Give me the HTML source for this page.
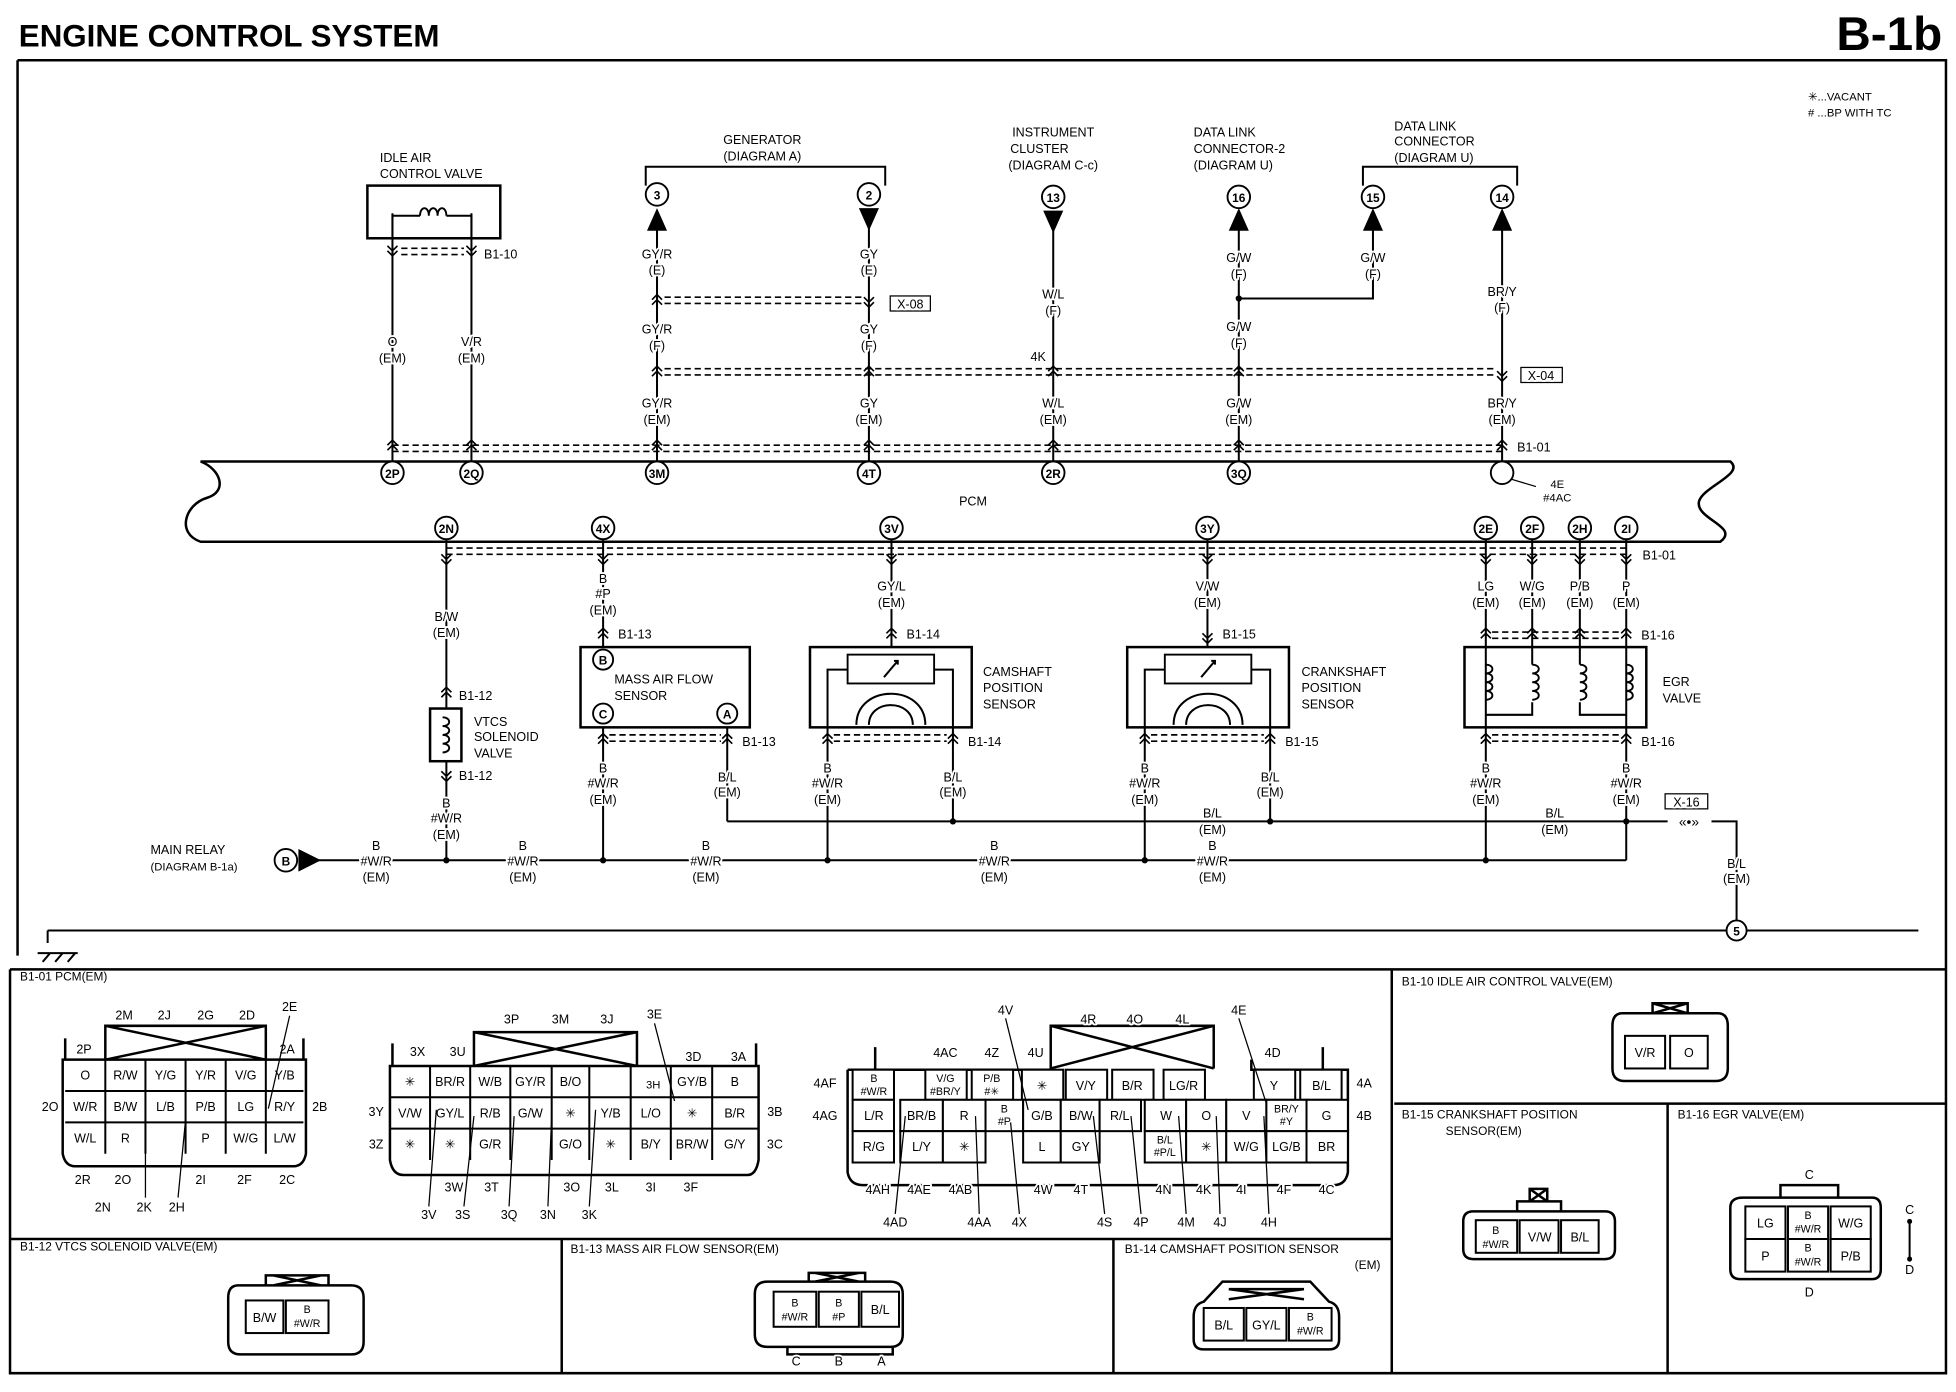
<!DOCTYPE html>
<html><head><meta charset="utf-8"><style>
html,body{margin:0;padding:0;background:#fff}
svg{display:block}
text{font-family:"Liberation Sans",sans-serif;fill:#000}
.t{font-size:10px;text-anchor:middle;paint-order:stroke;stroke:#fff;stroke-width:3px;stroke-linejoin:round}
.l{font-size:10px}
.c{font-size:9.5px;text-anchor:middle;font-weight:bold}
.s{font-size:8.5px;text-anchor:middle}
.w{stroke:#000;stroke-width:1.6;fill:none}
.d{stroke:#000;stroke-width:1.3;stroke-dasharray:5 3;fill:none}
.b{stroke:#000;stroke-width:2;fill:none}
.cell{stroke:#000;stroke-width:1.6;fill:#fff}
</style></head><body>
<svg width="1956" height="1392" viewBox="0 0 1560 1110" preserveAspectRatio="none" xmlns="http://www.w3.org/2000/svg">
<defs>
<path id="cu" d="M-4,3 L0,-1 L4,3 M-4,7 L0,3 L4,7" fill="none" stroke="#000" stroke-width="1.3"/>
<path id="cd" d="M-4,-3 L0,1 L4,-3 M-4,-7 L0,-3 L4,-7" fill="none" stroke="#000" stroke-width="1.3"/>
<path id="coil" d="M0,0 c7,0 7,7 0,7 c7,0 7,7 0,7 c7,0 7,7 0,7 c7,0 7,7 0,7" fill="none" stroke="#000" stroke-width="1.5"/>
</defs>
<rect width="1560" height="1110" fill="#fff"/>
<text x="15" y="37" style="font-size:25px;font-weight:bold">ENGINE CONTROL SYSTEM</text>
<text x="1549" y="40" style="font-size:38px;font-weight:bold;text-anchor:end">B-1b</text>
<path class="b" d="M14,48 H1552 V1095 H8 V773 M14,48 V762"/>
<path class="b" d="M8,773 H1552 M8,988 H1110 M1110,773 V1095 M1112,880 H1552 M1330,880 V1095 M448,988 V1095 M888,988 V1095"/>
<text x="1442" y="80" class="l" style="font-size:9px">✳...VACANT</text>
<text x="1442" y="93" class="l" style="font-size:9px"># ...BP WITH TC</text>
<path class="w" d="M38,742 H1377 M1393,742 H1530 M38,742 V752 M30,760 H62 M34,767 l6,-7 M44,767 l6,-7 M54,767 l6,-7"/>
<circle cx="1385" cy="742" r="8" fill="#fff" stroke="#000" stroke-width="1.5"/><text x="1385" y="746" class="c">5</text>
<path class="b" d="M160,368 L1380,368 C1392,378 1358,388 1355,400 C1352,414 1388,420 1372,432 L160,432 C140,425 148,402 165,397 C182,392 176,374 160,368 Z"/>
<text x="776" y="403" class="t">PCM</text>
<path class="d" d="M313,355 H1200 M313,360 H1200"/>
<text x="1210" y="360" class="l">B1-01</text>
<path class="d" d="M356,437 H1300 M356,442 H1300"/>
<text x="1310" y="446" class="l">B1-01</text>
<path class="w" d="M313,170 V369 M376,170 V369 M524,183 V369 M693,170 V369 M840,170 V369 M988,183 V369 M1198,183 V369 M1095,183 V238 H988 M515,148 V133 H706 V148 M1087,148 V133 H1210 V148"/>
<circle cx="988" cy="238" r="2.5"/>
<rect x="293" y="148" width="106" height="42" fill="none" stroke="#000" stroke-width="2"/>
<path class="w" d="M313,190 V172 H335 M356,172 H376 V190"/>
<path d="M335,172 c0,-8 7,-8 7,0 c0,-8 7,-8 7,0 c0,-8 7,-8 7,0" fill="none" stroke="#000" stroke-width="1.5"/>
<text x="303" y="129" class="l">IDLE AIR</text><text x="303" y="142" class="l">CONTROL VALVE</text>
<use href="#cd" x="313" y="203"/><use href="#cd" x="376" y="203"/><path class="d" d="M320,198 H370 M320,203 H370"/><text x="386" y="206" class="l">B1-10</text>
<text x="313" y="276" class="t">O</text><text x="313" y="289" class="t">(EM)</text>
<text x="376" y="276" class="t">V/R</text><text x="376" y="289" class="t">(EM)</text>
<text x="608" y="115" class="t">GENERATOR</text><text x="608" y="128" class="t">(DIAGRAM A)</text>
<text x="840" y="109" class="t">INSTRUMENT</text><text x="829" y="122" class="t">CLUSTER</text><text x="840" y="135" class="t">(DIAGRAM C-c)</text>
<text x="952" y="109" class="l">DATA LINK</text><text x="952" y="122" class="l">CONNECTOR-2</text><text x="952" y="135" class="l">(DIAGRAM U)</text>
<text x="1112" y="104" class="l">DATA LINK</text><text x="1112" y="116" class="l">CONNECTOR</text><text x="1112" y="129" class="l">(DIAGRAM U)</text>
<g fill="#fff" stroke="#000" stroke-width="1.5"><circle cx="524" cy="155" r="9"/><circle cx="693" cy="155" r="9"/><circle cx="840" cy="157" r="9"/><circle cx="988" cy="157" r="9"/><circle cx="1095" cy="157" r="9"/><circle cx="1198" cy="157" r="9"/></g>
<text x="524" y="159" class="c">3</text><text x="693" y="159" class="c">2</text><text x="840" y="161" class="c">13</text><text x="988" y="161" class="c">16</text><text x="1095" y="161" class="c">15</text><text x="1198" y="161" class="c">14</text>
<path d="M516,184 L524,166 L532,184 Z M685,166 L701,166 L693,184 Z M832,168 L848,168 L840,186 Z M980,184 L988,166 L996,184 Z M1087,184 L1095,166 L1103,184 Z M1190,184 L1198,166 L1206,184 Z"/>
<text x="524" y="206" class="t">GY/R</text><text x="524" y="219" class="t">(E)</text>
<text x="693" y="206" class="t">GY</text><text x="693" y="219" class="t">(E)</text>
<use href="#cu" x="524" y="236"/><use href="#cd" x="693" y="244"/><path class="d" d="M530,237 H688 M530,242 H688"/>
<rect x="710" y="236" width="32" height="12" fill="none" stroke="#000"/><text x="726" y="246" class="t">X-08</text>
<text x="524" y="266" class="t">GY/R</text><text x="524" y="279" class="t">(F)</text>
<text x="693" y="266" class="t">GY</text><text x="693" y="279" class="t">(F)</text>
<text x="840" y="238" class="t">W/L</text><text x="840" y="251" class="t">(F)</text>
<text x="988" y="209" class="t">G/W</text><text x="988" y="222" class="t">(F)</text>
<text x="1095" y="209" class="t">G/W</text><text x="1095" y="222" class="t">(F)</text>
<text x="988" y="264" class="t">G/W</text><text x="988" y="277" class="t">(F)</text>
<text x="1198" y="236" class="t">BR/Y</text><text x="1198" y="249" class="t">(F)</text>
<text x="828" y="288" class="t">4K</text>
<path class="d" d="M530,294 H1193 M530,299 H1193"/>
<use href="#cu" x="524" y="293"/><use href="#cu" x="693" y="293"/><use href="#cu" x="840" y="293"/><use href="#cu" x="988" y="293"/><use href="#cd" x="1198" y="303"/>
<rect x="1213" y="293" width="33" height="12" fill="none" stroke="#000"/><text x="1229" y="303" class="t">X-04</text>
<text x="524" y="325" class="t">GY/R</text><text x="524" y="338" class="t">(EM)</text>
<text x="693" y="325" class="t">GY</text><text x="693" y="338" class="t">(EM)</text>
<text x="840" y="325" class="t">W/L</text><text x="840" y="338" class="t">(EM)</text>
<text x="988" y="325" class="t">G/W</text><text x="988" y="338" class="t">(EM)</text>
<text x="1198" y="325" class="t">BR/Y</text><text x="1198" y="338" class="t">(EM)</text>
<g><use href="#cu" x="313" y="352"/><use href="#cu" x="376" y="352"/><use href="#cu" x="524" y="352"/><use href="#cu" x="693" y="352"/><use href="#cu" x="840" y="352"/><use href="#cu" x="988" y="352"/><use href="#cu" x="1198" y="352"/></g>
<g fill="#fff" stroke="#000" stroke-width="1.5"><circle cx="313" cy="377" r="9"/><circle cx="376" cy="377" r="9"/><circle cx="524" cy="377" r="9"/><circle cx="693" cy="377" r="9"/><circle cx="840" cy="377" r="9"/><circle cx="988" cy="377" r="9"/><circle cx="1198" cy="377" r="9"/></g>
<text x="313" y="381" class="c">2P</text><text x="376" y="381" class="c">2Q</text><text x="524" y="381" class="c">3M</text><text x="693" y="381" class="c">4T</text><text x="840" y="381" class="c">2R</text><text x="988" y="381" class="c">3Q</text>
<path class="w" style="stroke-width:1" d="M1205,382 L1225,388"/>
<text x="1242" y="389" class="t" style="font-size:9px">4E</text><text x="1242" y="400" class="t" style="font-size:9px">#4AC</text>
<path class="w" d="M356,430 V565 M356,607 V686 M481,430 V516 M481,580 V686 M580,580 V655 M711,430 V522 M660,580 V686 M760,580 V655 M963,430 V522 M913,580 V686 M1013,580 V655 M1185,430 V686 M1222,430 V530 M1260,430 V530 M1297,430 V686 M580,655 H1330 M1365,655 H1385 V734 M250,686 H1297"/>
<g fill="#fff" stroke="#000" stroke-width="1.5"><circle cx="356" cy="421" r="9"/><circle cx="481" cy="421" r="9"/><circle cx="711" cy="421" r="9"/><circle cx="963" cy="421" r="9"/><circle cx="1185" cy="421" r="9"/><circle cx="1222" cy="421" r="9"/><circle cx="1260" cy="421" r="9"/><circle cx="1297" cy="421" r="9"/></g>
<text x="356" y="425" class="c">2N</text><text x="481" y="425" class="c">4X</text><text x="711" y="425" class="c">3V</text><text x="963" y="425" class="c">3Y</text><text x="1185" y="425" class="c">2E</text><text x="1222" y="425" class="c">2F</text><text x="1260" y="425" class="c">2H</text><text x="1297" y="425" class="c">2I</text>
<g><use href="#cd" x="356" y="449"/><use href="#cd" x="481" y="449"/><use href="#cd" x="711" y="449"/><use href="#cd" x="963" y="449"/><use href="#cd" x="1185" y="449"/><use href="#cd" x="1222" y="449"/><use href="#cd" x="1260" y="449"/><use href="#cd" x="1297" y="449"/></g>
<text x="356" y="495" class="t">B/W</text><text x="356" y="508" class="t">(EM)</text>
<text x="481" y="465" class="t">B</text><text x="481" y="477" class="t">#P</text><text x="481" y="490" class="t">(EM)</text>
<text x="711" y="471" class="t">GY/L</text><text x="711" y="484" class="t">(EM)</text>
<text x="963" y="471" class="t">V/W</text><text x="963" y="484" class="t">(EM)</text>
<text x="1185" y="471" class="t">LG</text><text x="1185" y="484" class="t">(EM)</text>
<text x="1222" y="471" class="t">W/G</text><text x="1222" y="484" class="t">(EM)</text>
<text x="1260" y="471" class="t">P/B</text><text x="1260" y="484" class="t">(EM)</text>
<text x="1297" y="471" class="t">P</text><text x="1297" y="484" class="t">(EM)</text>
<use href="#cu" x="481" y="502"/><text x="493" y="509" class="l">B1-13</text>
<use href="#cu" x="711" y="502"/><text x="723" y="509" class="l">B1-14</text>
<use href="#cd" x="963" y="512"/><text x="975" y="509" class="l">B1-15</text>
<path class="d" d="M1190,504 H1292 M1190,509 H1292"/><use href="#cu" x="1185" y="502"/><use href="#cu" x="1222" y="502"/><use href="#cu" x="1260" y="502"/><use href="#cu" x="1297" y="502"/><text x="1309" y="510" class="l">B1-16</text>
<use href="#cu" x="356" y="549"/><text x="366" y="558" class="l">B1-12</text>
<rect x="343" y="565" width="25" height="42" fill="#fff" stroke="#000" stroke-width="2"/><use href="#coil" x="353" y="572"/>
<text x="378" y="579" class="l">VTCS</text><text x="378" y="591" class="l">SOLENOID</text><text x="378" y="604" class="l">VALVE</text>
<use href="#cd" x="356" y="622"/><text x="366" y="622" class="l">B1-12</text>
<text x="356" y="644" class="t">B</text><text x="356" y="656" class="t">#W/R</text><text x="356" y="669" class="t">(EM)</text>
<rect x="463" y="516" width="135" height="64" fill="#fff" stroke="#000" stroke-width="2"/>
<g fill="#fff" stroke="#000" stroke-width="1.5"><circle cx="481" cy="526" r="8"/><circle cx="481" cy="569" r="8"/><circle cx="580" cy="569" r="8"/></g>
<text x="481" y="530" class="c">B</text><text x="481" y="573" class="c">C</text><text x="580" y="573" class="c">A</text>
<text x="490" y="545" class="l">MASS AIR FLOW</text><text x="490" y="558" class="l">SENSOR</text>
<path class="d" d="M486,586 H575 M486,591 H575"/><use href="#cu" x="481" y="586"/><use href="#cu" x="580" y="586"/><text x="592" y="595" class="l">B1-13</text>
<text x="481" y="616" class="t">B</text><text x="481" y="628" class="t">#W/R</text><text x="481" y="641" class="t">(EM)</text>
<text x="580" y="623" class="t">B/L</text><text x="580" y="635" class="t">(EM)</text>
<rect x="646" y="516" width="129" height="64" fill="#fff" stroke="#000" stroke-width="2"/>
<rect x="676" y="522" width="69" height="23" fill="#fff" stroke="#000" stroke-width="1.5"/>
<path class="w" d="M705,540 L716,527 M713,527 h3 v3 M676,534 H660 V580 M745,534 H760 V580 M683,578 C683,545 738,545 738,578 M693,578 C693,557 728,557 728,578"/>
<path class="d" d="M665,586 H755 M665,591 H755"/><use href="#cu" x="660" y="586"/><use href="#cu" x="760" y="586"/><text x="772" y="595" class="l">B1-14</text>
<text x="784" y="539" class="l">CAMSHAFT</text><text x="784" y="552" class="l">POSITION</text><text x="784" y="565" class="l">SENSOR</text>
<text x="660" y="616" class="t">B</text><text x="660" y="628" class="t">#W/R</text><text x="660" y="641" class="t">(EM)</text>
<text x="760" y="623" class="t">B/L</text><text x="760" y="635" class="t">(EM)</text>
<rect x="899" y="516" width="129" height="64" fill="#fff" stroke="#000" stroke-width="2"/>
<rect x="929" y="522" width="69" height="23" fill="#fff" stroke="#000" stroke-width="1.5"/>
<path class="w" d="M958,540 L969,527 M966,527 h3 v3 M929,534 H913 V580 M998,534 H1013 V580 M936,578 C936,545 991,545 991,578 M946,578 C946,557 981,557 981,578"/>
<path class="d" d="M918,586 H1008 M918,591 H1008"/><use href="#cu" x="913" y="586"/><use href="#cu" x="1013" y="586"/><text x="1025" y="595" class="l">B1-15</text>
<text x="1038" y="539" class="l">CRANKSHAFT</text><text x="1038" y="552" class="l">POSITION</text><text x="1038" y="565" class="l">SENSOR</text>
<text x="913" y="616" class="t">B</text><text x="913" y="628" class="t">#W/R</text><text x="913" y="641" class="t">(EM)</text>
<text x="1013" y="623" class="t">B/L</text><text x="1013" y="635" class="t">(EM)</text>
<rect x="1168" y="516" width="145" height="64" fill="#fff" stroke="#000" stroke-width="2"/>
<path class="w" d="M1185,516 V580 M1297,516 V580 M1222,516 V530 M1260,516 V530 M1185,570 H1222 V560 M1260,560 V570 H1297"/>
<use href="#coil" x="1185" y="530"/><use href="#coil" x="1222" y="530"/><use href="#coil" x="1260" y="530"/><use href="#coil" x="1297" y="530"/>
<text x="1326" y="547" class="l">EGR</text><text x="1326" y="560" class="l">VALVE</text>
<path class="d" d="M1190,586 H1292 M1190,591 H1292"/><use href="#cu" x="1185" y="586"/><use href="#cu" x="1297" y="586"/><text x="1309" y="595" class="l">B1-16</text>
<text x="1185" y="616" class="t">B</text><text x="1185" y="628" class="t">#W/R</text><text x="1185" y="641" class="t">(EM)</text>
<text x="1297" y="616" class="t">B</text><text x="1297" y="628" class="t">#W/R</text><text x="1297" y="641" class="t">(EM)</text>
<text x="967" y="652" class="t">B/L</text><text x="967" y="665" class="t">(EM)</text>
<text x="1240" y="652" class="t">B/L</text><text x="1240" y="665" class="t">(EM)</text>
<rect x="1328" y="633" width="34" height="12" fill="none" stroke="#000"/><text x="1345" y="643" class="t">X-16</text>
<text x="1347" y="659" class="t" style="font-size:11px">«•»</text>
<text x="1385" y="692" class="t">B/L</text><text x="1385" y="704" class="t">(EM)</text>
<g><circle cx="356" cy="686" r="2.5"/><circle cx="481" cy="686" r="2.5"/><circle cx="660" cy="686" r="2.5"/><circle cx="913" cy="686" r="2.5"/><circle cx="1185" cy="686" r="2.5"/><circle cx="760" cy="655" r="2.5"/><circle cx="1013" cy="655" r="2.5"/><circle cx="1297" cy="655" r="2.5"/></g>
<text x="120" y="681" class="l">MAIN RELAY</text><text x="120" y="694" class="l" style="font-size:9px">(DIAGRAM B-1a)</text>
<circle cx="228" cy="686" r="9" fill="#fff" stroke="#000" stroke-width="1.5"/><text x="228" y="690" class="c">B</text>
<path d="M238,677 L256,686 L238,695 Z"/>
<text x="300" y="678" class="t">B</text><text x="300" y="690" class="t">#W/R</text><text x="300" y="703" class="t">(EM)</text>
<text x="417" y="678" class="t">B</text><text x="417" y="690" class="t">#W/R</text><text x="417" y="703" class="t">(EM)</text>
<text x="563" y="678" class="t">B</text><text x="563" y="690" class="t">#W/R</text><text x="563" y="703" class="t">(EM)</text>
<text x="793" y="678" class="t">B</text><text x="793" y="690" class="t">#W/R</text><text x="793" y="703" class="t">(EM)</text>
<text x="967" y="678" class="t">B</text><text x="967" y="690" class="t">#W/R</text><text x="967" y="703" class="t">(EM)</text>

<text x="16" y="782" class="l" style="font-size:9.5px">B1-01 PCM(EM)</text>
<text x="1118" y="786" class="l" style="font-size:9.5px">B1-10 IDLE AIR CONTROL VALVE(EM)</text>
<text x="1118" y="892" class="l" style="font-size:9.5px">B1-15 CRANKSHAFT POSITION</text>
<text x="1153" y="905" class="l" style="font-size:9.5px">SENSOR(EM)</text>
<text x="1338" y="892" class="l" style="font-size:9.5px">B1-16 EGR VALVE(EM)</text>
<text x="16" y="997" class="l" style="font-size:9.5px">B1-12 VTCS SOLENOID VALVE(EM)</text>
<text x="455" y="999" class="l" style="font-size:9.5px">B1-13 MASS AIR FLOW SENSOR(EM)</text>
<text x="897" y="999" class="l" style="font-size:9.5px">B1-14 CAMSHAFT POSITION SENSOR</text>
<text x="1101" y="1012" class="l" style="font-size:9.5px;text-anchor:end">(EM)</text>

<g>
<path class="b" d="M50,845 V920 Q52,930 60,930 H234 Q242,930 244,920 V845 Z M84,845 V818 H212 V845 M84,818 L212,845 M84,845 L212,818 M52,845 V828 M242,845 V828"/>
<path class="w" d="M52,870 H242 M52,895 H242 M84,845 V920 M116,845 V920 M148,845 V920 M180,845 V920 M212,845 V920"/>
<text x="68" y="861" class="t">O</text><text x="100" y="861" class="t">R/W</text><text x="132" y="861" class="t">Y/G</text><text x="164" y="861" class="t">Y/R</text><text x="196" y="861" class="t">V/G</text><text x="227" y="861" class="t">Y/B</text>
<text x="68" y="886" class="t">W/R</text><text x="100" y="886" class="t">B/W</text><text x="132" y="886" class="t">L/B</text><text x="164" y="886" class="t">P/B</text><text x="196" y="886" class="t">LG</text><text x="227" y="886" class="t">R/Y</text>
<text x="68" y="911" class="t">W/L</text><text x="100" y="911" class="t">R</text><text x="164" y="911" class="t">P</text><text x="196" y="911" class="t">W/G</text><text x="227" y="911" class="t">L/W</text>
<text x="67" y="840" class="t">2P</text><text x="229" y="840" class="t">2A</text>
<text x="99" y="813" class="t">2M</text><text x="131" y="813" class="t">2J</text><text x="164" y="813" class="t">2G</text><text x="197" y="813" class="t">2D</text><text x="231" y="806" class="t">2E</text>
<text x="40" y="886" class="t">2O</text><text x="255" y="886" class="t">2B</text>
<text x="66" y="944" class="t">2R</text><text x="98" y="944" class="t">2O</text><text x="160" y="944" class="t">2I</text><text x="195" y="944" class="t">2F</text><text x="229" y="944" class="t">2C</text>
<text x="82" y="966" class="t">2N</text><text x="115" y="966" class="t">2K</text><text x="141" y="966" class="t">2H</text>
<path class="w" style="stroke-width:1" d="M231,810 L214,884 M116,893 V955 M148,893 L142,955"/>
</g>
<g>
<path class="b" d="M311,850 V925 Q313,937 322,937 H596 Q603,937 605,925 V850 Z M378,850 V823 H508 V850 M378,823 L508,850 M378,850 L508,823 M313,850 V832 M603,850 V832"/>
<path class="w" d="M311,875 H605 M311,900 H605 M343,850 V925 M375,850 V925 M407,850 V925 M440,850 V925 M470,850 V925 M503,850 V925 M535,850 V925 M568,850 V925"/>
<text x="327" y="866" class="t">✳</text><text x="359" y="866" class="t">BR/R</text><text x="391" y="866" class="t">W/B</text><text x="423" y="866" class="t">GY/R</text><text x="455" y="866" class="t">B/O</text><text x="521" y="868" class="t" style="font-size:9px">3H</text><text x="552" y="866" class="t">GY/B</text><text x="586" y="866" class="t">B</text>
<text x="327" y="891" class="t">V/W</text><text x="359" y="891" class="t">GY/L</text><text x="391" y="891" class="t">R/B</text><text x="423" y="891" class="t">G/W</text><text x="455" y="891" class="t">✳</text><text x="487" y="891" class="t">Y/B</text><text x="519" y="891" class="t">L/O</text><text x="552" y="891" class="t">✳</text><text x="586" y="891" class="t">B/R</text>
<text x="327" y="916" class="t">✳</text><text x="359" y="916" class="t">✳</text><text x="391" y="916" class="t">G/R</text><text x="455" y="916" class="t">G/O</text><text x="487" y="916" class="t">✳</text><text x="519" y="916" class="t">B/Y</text><text x="552" y="916" class="t">BR/W</text><text x="586" y="916" class="t">G/Y</text>
<text x="333" y="842" class="t">3X</text><text x="365" y="842" class="t">3U</text><text x="408" y="816" class="t">3P</text><text x="447" y="816" class="t">3M</text><text x="484" y="816" class="t">3J</text><text x="522" y="812" class="t">3E</text><text x="553" y="846" class="t">3D</text><text x="589" y="846" class="t">3A</text>
<text x="300" y="890" class="t">3Y</text><text x="300" y="916" class="t">3Z</text><text x="618" y="890" class="t">3B</text><text x="618" y="916" class="t">3C</text>
<text x="362" y="950" class="t">3W</text><text x="392" y="950" class="t">3T</text><text x="456" y="950" class="t">3O</text><text x="488" y="950" class="t">3L</text><text x="519" y="950" class="t">3I</text><text x="551" y="950" class="t">3F</text>
<text x="342" y="972" class="t">3V</text><text x="369" y="972" class="t">3S</text><text x="406" y="972" class="t">3Q</text><text x="437" y="972" class="t">3N</text><text x="470" y="972" class="t">3K</text>
<path class="w" style="stroke-width:1" d="M522,816 L538,878 M348,885 L342,962 M378,890 L370,962 M410,890 L406,962 M440,890 L437,962 M475,885 L470,962"/>
</g>
<g>
<path class="b" d="M676,853 V935 Q678,945 688,945 H1064 Q1073,945 1075,935 V853 H998 V845 M838,852 V818 H968 V852 M838,818 L968,852 M838,852 L968,818 M676,853 H838 M698,853 V835 M1055,853 V835"/>
<g class="cell"><rect x="680" y="853" width="33" height="24"/><rect x="738" y="853" width="33" height="24"/><rect x="775" y="853" width="33" height="24"/><rect x="815" y="853" width="33" height="24"/><rect x="850" y="853" width="33" height="24"/><rect x="887" y="853" width="33" height="24"/><rect x="928" y="853" width="33" height="24"/><rect x="1000" y="853" width="33" height="24"/><rect x="1037" y="853" width="33" height="24"/>
<rect x="680" y="877" width="33" height="25"/><rect x="718" y="877" width="34" height="25"/><rect x="752" y="877" width="34" height="25"/><rect x="786" y="877" width="30" height="25"/><rect x="816" y="877" width="30" height="25"/><rect x="846" y="877" width="31" height="25"/><rect x="877" y="877" width="33" height="25"/><rect x="913" y="877" width="33" height="25"/><rect x="946" y="877" width="32" height="25"/><rect x="978" y="877" width="32" height="25"/><rect x="1010" y="877" width="32" height="25"/><rect x="1042" y="877" width="33" height="25"/>
<rect x="680" y="902" width="33" height="25"/><rect x="718" y="902" width="34" height="25"/><rect x="752" y="902" width="34" height="25"/><rect x="816" y="902" width="30" height="25"/><rect x="846" y="902" width="31" height="25"/><rect x="913" y="902" width="33" height="25"/><rect x="946" y="902" width="32" height="25"/><rect x="978" y="902" width="32" height="25"/><rect x="1010" y="902" width="32" height="25"/><rect x="1042" y="902" width="33" height="25"/></g>
<text x="697" y="863" class="s">B</text><text x="697" y="873" class="s">#W/R</text><text x="754" y="863" class="s">V/G</text><text x="754" y="873" class="s">#BR/Y</text><text x="791" y="863" class="s">P/B</text><text x="791" y="873" class="s">#✳</text>
<text x="831" y="869" class="t">✳</text><text x="866" y="869" class="t">V/Y</text><text x="903" y="869" class="t">B/R</text><text x="944" y="869" class="t">LG/R</text><text x="1016" y="869" class="t">Y</text><text x="1054" y="869" class="t">B/L</text>
<text x="697" y="893" class="t">L/R</text><text x="735" y="893" class="t">BR/B</text><text x="769" y="893" class="t">R</text><text x="801" y="887" class="s">B</text><text x="801" y="897" class="s">#P</text><text x="831" y="893" class="t">G/B</text><text x="862" y="893" class="t">B/W</text><text x="893" y="893" class="t">R/L</text><text x="930" y="893" class="t">W</text><text x="962" y="893" class="t">O</text><text x="994" y="893" class="t">V</text><text x="1026" y="887" class="s">BR/Y</text><text x="1026" y="897" class="s">#Y</text><text x="1058" y="893" class="t">G</text>
<text x="697" y="918" class="t">R/G</text><text x="735" y="918" class="t">L/Y</text><text x="769" y="918" class="t">✳</text><text x="831" y="918" class="t">L</text><text x="862" y="918" class="t">GY</text><text x="929" y="912" class="s">B/L</text><text x="929" y="922" class="s">#P/L</text><text x="962" y="918" class="t">✳</text><text x="994" y="918" class="t">W/G</text><text x="1026" y="918" class="t">LG/B</text><text x="1058" y="918" class="t">BR</text>
<text x="754" y="843" class="t">4AC</text><text x="791" y="843" class="t">4Z</text><text x="826" y="843" class="t">4U</text><text x="802" y="809" class="t">4V</text><text x="868" y="816" class="t">4R</text><text x="905" y="816" class="t">4O</text><text x="943" y="816" class="t">4L</text><text x="988" y="809" class="t">4E</text><text x="1015" y="843" class="t">4D</text>
<text x="658" y="867" class="t">4AF</text><text x="658" y="893" class="t">4AG</text><text x="1088" y="867" class="t">4A</text><text x="1088" y="893" class="t">4B</text>
<text x="700" y="952" class="t">4AH</text><text x="733" y="952" class="t">4AE</text><text x="766" y="952" class="t">4AB</text><text x="832" y="952" class="t">4W</text><text x="862" y="952" class="t">4T</text><text x="928" y="952" class="t">4N</text><text x="960" y="952" class="t">4K</text><text x="990" y="952" class="t">4I</text><text x="1024" y="952" class="t">4F</text><text x="1058" y="952" class="t">4C</text>
<text x="714" y="978" class="t">4AD</text><text x="781" y="978" class="t">4AA</text><text x="813" y="978" class="t">4X</text><text x="881" y="978" class="t">4S</text><text x="910" y="978" class="t">4P</text><text x="946" y="978" class="t">4M</text><text x="973" y="978" class="t">4J</text><text x="1012" y="978" class="t">4H</text>
<path class="w" style="stroke-width:1" d="M802,812 L820,885 M988,812 L1010,880 M722,890 L714,968 M778,890 L781,968 M806,895 L813,968 M872,890 L881,968 M902,890 L910,968 M940,890 L946,968 M970,890 L973,968 M1008,890 L1012,968"/>
</g>
<path class="b" d="M1294,808 H1370 Q1378,808 1378,818 V852 Q1378,862 1368,862 H1296 Q1286,862 1286,852 V818 Q1286,808 1294,808 Z M1318,808 V800 H1346 V808 M1318,800 L1346,808 M1318,808 L1346,800"/>
<g class="cell"><rect x="1296" y="826" width="32" height="26"/><rect x="1332" y="826" width="30" height="26"/></g>
<text x="1312" y="843" class="t">V/R</text><text x="1347" y="843" class="t">O</text>
<path class="b" d="M1175,966 H1280 Q1288,966 1288,974 V996 Q1288,1004 1280,1004 H1175 Q1167,1004 1167,996 V974 Q1167,966 1175,966 Z M1210,966 V958 H1245 V966 M1220,958 V948 H1234 V958 M1220,948 L1234,958 M1220,958 L1234,948"/>
<g class="cell"><rect x="1177" y="973" width="33" height="26"/><rect x="1212" y="973" width="31" height="26"/><rect x="1245" y="973" width="30" height="26"/></g>
<text x="1193" y="984" class="s">B</text><text x="1193" y="995" class="s">#W/R</text><text x="1228" y="990" class="t">V/W</text><text x="1260" y="990" class="t">B/L</text>
<path class="b" d="M1390,955 H1493 Q1500,955 1500,963 V1012 Q1500,1020 1493,1020 H1388 Q1380,1020 1380,1012 V963 Q1380,955 1390,955 Z M1420,955 V945 H1466 V955"/>
<g class="cell"><rect x="1392" y="962" width="32" height="26"/><rect x="1426" y="962" width="32" height="26"/><rect x="1460" y="962" width="32" height="26"/><rect x="1392" y="988" width="32" height="26"/><rect x="1426" y="988" width="32" height="26"/><rect x="1460" y="988" width="32" height="26"/></g>
<text x="1408" y="979" class="t">LG</text><text x="1442" y="972" class="s">B</text><text x="1442" y="983" class="s">#W/R</text><text x="1476" y="979" class="t">W/G</text>
<text x="1408" y="1005" class="t">P</text><text x="1442" y="998" class="s">B</text><text x="1442" y="1009" class="s">#W/R</text><text x="1476" y="1005" class="t">P/B</text>
<text x="1443" y="940" class="t">C</text><text x="1443" y="1034" class="t">D</text>
<text x="1523" y="968" class="t">C</text><text x="1523" y="1016" class="t">D</text><path class="w" d="M1523,972 V1006"/><circle cx="1523" cy="974" r="2"/><circle cx="1523" cy="1004" r="2"/>
<path class="b" d="M190,1025 H280 Q290,1025 290,1035 V1070 Q290,1080 280,1080 H192 Q182,1080 182,1070 V1035 Q182,1025 190,1025 Z M212,1025 V1017 H262 V1025 M218,1017 L256,1025 M218,1025 L256,1017"/>
<g class="cell"><rect x="196" y="1037" width="30" height="26"/><rect x="228" y="1037" width="34" height="26"/></g>
<text x="211" y="1054" class="t">B/W</text><text x="245" y="1047" class="s">B</text><text x="245" y="1058" class="s">#W/R</text>
<path class="b" d="M612,1022 H710 Q720,1022 720,1032 V1064 Q720,1074 710,1074 H612 Q602,1074 602,1064 V1032 Q602,1022 612,1022 Z M645,1022 V1015 H690 V1022 M650,1015 L685,1022 M650,1022 L685,1015 M628,1074 V1080 H712 V1074"/>
<g class="cell"><rect x="617" y="1030" width="34" height="28"/><rect x="653" y="1030" width="32" height="28"/><rect x="687" y="1030" width="30" height="28"/></g>
<text x="634" y="1042" class="s">B</text><text x="634" y="1053" class="s">#W/R</text><text x="669" y="1042" class="s">B</text><text x="669" y="1053" class="s">#P</text><text x="702" y="1048" class="t">B/L</text>
<text x="635" y="1089" class="t">C</text><text x="669" y="1089" class="t">B</text><text x="703" y="1089" class="t">A</text>
<path class="b" d="M960,1038 L975,1022 H1045 L1060,1038 Q1068,1040 1068,1050 V1068 Q1068,1076 1060,1076 H960 Q952,1076 952,1068 V1050 Q952,1040 960,1038 Z M980,1028 H1040 M980,1028 L1040,1036 M980,1036 L1040,1028"/>
<g class="cell"><rect x="960" y="1043" width="32" height="26"/><rect x="994" y="1043" width="32" height="26"/><rect x="1028" y="1043" width="34" height="26"/></g>
<text x="976" y="1060" class="t">B/L</text><text x="1010" y="1060" class="t">GY/L</text><text x="1045" y="1053" class="s">B</text><text x="1045" y="1064" class="s">#W/R</text>
</svg>
</body></html>
